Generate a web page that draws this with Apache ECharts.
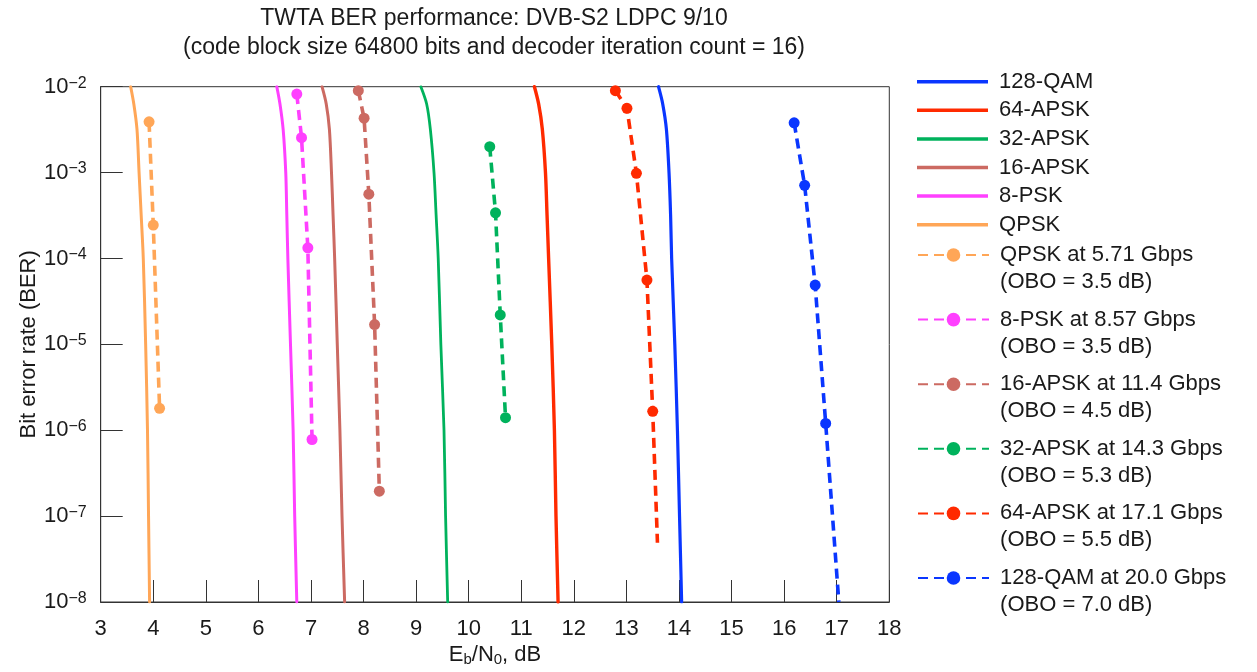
<!DOCTYPE html>
<html><head><meta charset="utf-8">
<script src="https://cdn.jsdelivr.net/npm/echarts@6/dist/echarts.min.js"></script>
<style>html,body{margin:0;padding:0;background:#fff}#c{width:1257px;height:672px}</style>
</head><body><div id="c"></div>
<script>
// ---- data: [Eb/N0 (dB), BER] ----
const titleText = 'TWTA BER performance: DVB-S2 LDPC 9/10\n(code block size 64800 bits and decoder iteration count = 16)';
const solidNames = ['128-QAM', '64-APSK', '32-APSK', '16-APSK', '8-PSK', 'QPSK'];
const dashedNames = [
  'QPSK at 5.71 Gbps\n(OBO = 3.5 dB)',
  '8-PSK at 8.57 Gbps\n(OBO = 3.5 dB)',
  '16-APSK at 11.4 Gbps\n(OBO = 4.5 dB)',
  '32-APSK at 14.3 Gbps\n(OBO = 5.3 dB)',
  '64-APSK at 17.1 Gbps\n(OBO = 5.5 dB)',
  '128-QAM at 20.0 Gbps\n(OBO = 7.0 dB)'
];
const qpskCurve   = [[3.57,1e-2],[3.63,6.3e-3],[3.69,3.2e-3],[3.73,1e-3],[3.77,3.2e-4],[3.81,1e-4],[3.855,1e-5],[3.89,1e-6],[3.91,1e-7],[3.93,1e-8]];
const psk8Curve   = [[6.35,1e-2],[6.41,6.3e-3],[6.47,3.2e-3],[6.52,1e-3],[6.54,3.2e-4],[6.56,1e-4],[6.61,1e-5],[6.66,1e-6],[6.69,1e-7],[6.73,1e-8]];
const apsk16Curve = [[7.21,1e-2],[7.29,6.3e-3],[7.35,3.2e-3],[7.39,1e-3],[7.42,3.2e-4],[7.45,1e-4],[7.50,1e-5],[7.55,1e-6],[7.59,1e-7],[7.64,1e-8]];
const apsk32Curve = [[9.09,1e-2],[9.20,6.3e-3],[9.27,3.2e-3],[9.34,1e-3],[9.38,3.2e-4],[9.42,1e-4],[9.47,1e-5],[9.53,1e-6],[9.56,1e-7],[9.60,1e-8]];
const apsk64Curve = [[11.25,1e-2],[11.33,6.3e-3],[11.40,3.2e-3],[11.46,1e-3],[11.49,3.2e-4],[11.52,1e-4],[11.58,1e-5],[11.63,1e-6],[11.66,1e-7],[11.70,1e-8]];
const qam128Curve = [[13.61,1e-2],[13.69,6.3e-3],[13.76,3.2e-3],[13.81,1e-3],[13.84,3.2e-4],[13.86,1e-4],[13.92,1e-5],[13.97,1e-6],[14.01,1e-7],[14.05,1e-8]];

const qpskTwta   = [[3.92,3.9e-3],[4.00,2.45e-4],[4.12,1.8e-6]];
const psk8Twta   = [[6.73,8.2e-3],[6.82,2.55e-3],[6.94,1.33e-4],[7.02,7.8e-7]];
const apsk16Twta = [[7.90,9e-3],[8.01,4.3e-3],[8.10,5.6e-4],[8.21,1.7e-5],[8.30,1.95e-7]];
const apsk32Twta = [[10.40,2.0e-3],[10.51,3.4e-4],[10.60,2.2e-5],[10.70,1.4e-6]];
const apsk64Twta = [[12.79,9e-3],[13.01,5.6e-3],[13.19,9.8e-4],[13.39,5.6e-5],[13.50,1.66e-6]];
const apsk64Tail = [13.59,4.9e-8];
const qam128Twta = [[16.19,3.8e-3],[16.39,7.1e-4],[16.59,4.9e-5],[16.79,1.2e-6]];
const qam128Tail = [17.04,1e-8];

const colors = {qam128:'#0a36ff', apsk64:'#ff2a00', apsk32:'#00b25c', apsk16:'#cc6a62', psk8:'#ff40ff', qpsk:'#ffa657'};

// ---- chart ----
const FONT = 'Liberation Sans, Arial, sans-serif';
function solid(name, data, color, w) {
  return {name, type:'line', data, symbol:'none', smooth:0.3, color,
    lineStyle:{width:w||3, color, cap:'round'}, z:2, silent:true, animation:false};
}
function dashed(name, pts, tail, color) {
  const d = pts.map(p => p.slice());
  if (tail) d.push({value: tail, symbol:'none'});
  return {name, type:'line', data:d, symbol:'circle', symbolSize:11, color,
    itemStyle:{color, borderWidth:0},
    lineStyle:{width:3.6, color, type:[10,6]}, z:3, silent:true, animation:false};
}
const series = [
  solid(solidNames[0], qam128Curve, colors.qam128, 3.2),
  solid(solidNames[1], apsk64Curve, colors.apsk64, 3.4),
  solid(solidNames[2], apsk32Curve, colors.apsk32, 2.8),
  solid(solidNames[3], apsk16Curve, colors.apsk16, 3),
  solid(solidNames[4], psk8Curve, colors.psk8, 3),
  solid(solidNames[5], qpskCurve, colors.qpsk, 3),
  dashed(dashedNames[0], qpskTwta, null, colors.qpsk),
  dashed(dashedNames[1], psk8Twta, null, colors.psk8),
  dashed(dashedNames[2], apsk16Twta, null, colors.apsk16),
  dashed(dashedNames[3], apsk32Twta, null, colors.apsk32),
  dashed(dashedNames[4], apsk64Twta, apsk64Tail, colors.apsk64),
  dashed(dashedNames[5], qam128Twta, qam128Tail, colors.qam128)
];

const chart = echarts.init(document.getElementById('c'), null, {renderer:'canvas'});
chart.setOption({
  animation:false,
  backgroundColor:'#fff',
  textStyle:{fontFamily:FONT},
  title:{text:titleText, left:494, top:4, textAlign:'center', padding:0,
    textStyle:{fontSize:23, fontWeight:'normal', color:'#1a1a1a', lineHeight:29, fontFamily:FONT}},
  grid:{left:100.7, right:367.7, top:86.7, bottom:68.7, show:true, borderColor:'#333', borderWidth:1, containLabel:false},
  legend:[
    {data:solidNames, orient:'vertical', left:917, top:68.2, padding:0, itemGap:1.6,
      icon:'rect', itemWidth:71, itemHeight:3.5, selectedMode:false,
      itemStyle:{borderWidth:0},
      formatter: n => ' ' + n,
      textStyle:{fontSize:22, lineHeight:27, color:'#1a1a1a', fontFamily:FONT}},
    {data:dashedNames, orient:'vertical', left:917, top:214.5, padding:0, itemGap:-16.4,
      itemWidth:71, itemHeight:17, selectedMode:false,
      formatter: n => '\n' + n.split('\n').map(s => ' ' + s).join('\n'),
      textStyle:{fontSize:22, lineHeight:27, color:'#1a1a1a', fontFamily:FONT}}
  ],
  xAxis:{type:'value', min:3, max:18, interval:1,
    name:'{n|E}{s|b}{n|/N}{s|0}{n|, dB}', nameLocation:'middle', nameGap:41, nameMoveOverlap:false,
    nameTextStyle:{rich:{n:{fontSize:22, color:'#1a1a1a', fontFamily:FONT}, s:{fontSize:15, color:'#1a1a1a', padding:[9,0,0,0], fontFamily:FONT}}},
    axisLine:{show:true, lineStyle:{color:'#333', width:1}},
    axisTick:{show:true, inside:true, length:22, lineStyle:{color:'#333', width:1}},
    axisLabel:{margin:16, fontSize:22, color:'#1a1a1a', fontFamily:FONT},
    splitLine:{show:false}},
  yAxis:{type:'log', logBase:10, min:1e-8, max:1e-2, interval:1,
    name:'Bit error rate (BER)', nameLocation:'middle', nameGap:61, nameMoveOverlap:false,
    nameTextStyle:{fontSize:22, color:'#1a1a1a', fontFamily:FONT},
    axisLine:{show:true, lineStyle:{color:'#333', width:1}},
    axisTick:{show:true, inside:true, length:22, lineStyle:{color:'#333', width:1}},
    axisLabel:{margin:14, color:'#1a1a1a',
      formatter: v => '{n|10}{s|\u2212' + Math.abs(Math.round(Math.log10(v))) + '}',
      rich:{n:{fontSize:22, fontFamily:FONT, color:'#1a1a1a'}, s:{fontSize:16, fontFamily:FONT, color:'#1a1a1a', padding:[0,0,7,0]}}},
    splitLine:{show:false}, minorTick:{show:false}},
  series
});
</script></body></html>
